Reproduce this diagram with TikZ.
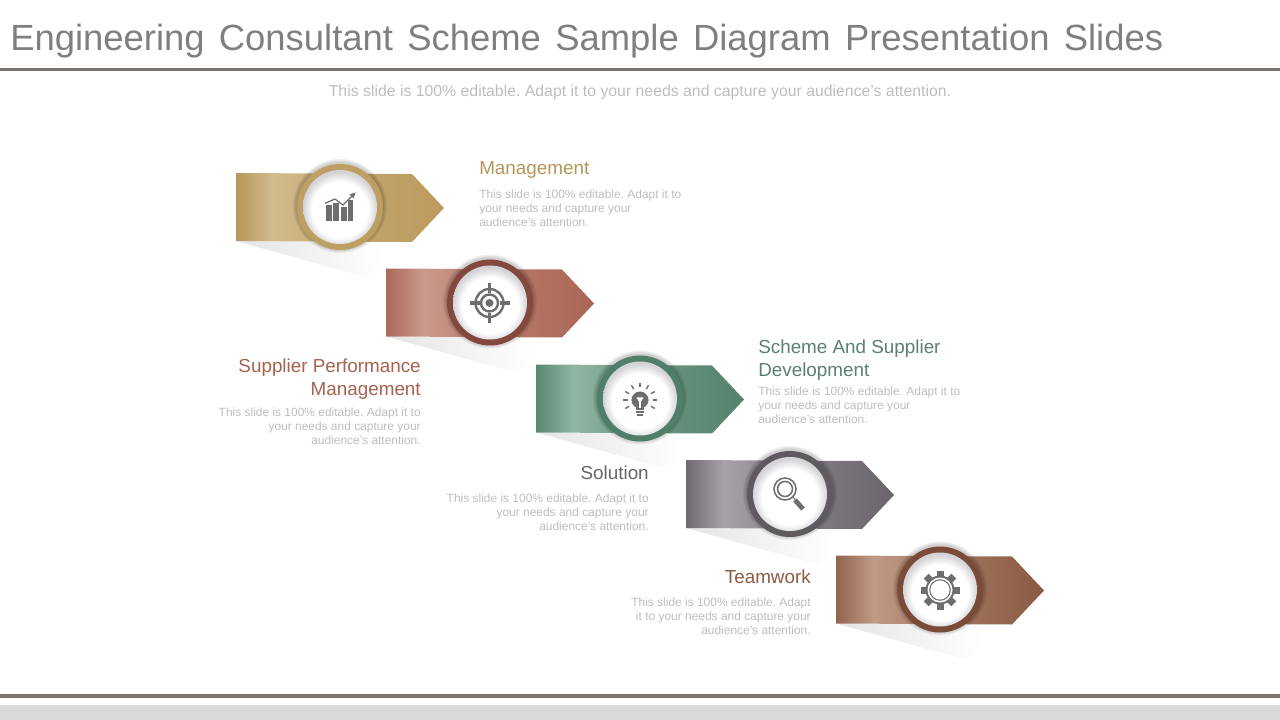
\documentclass[tikz,border=0pt]{standalone}
\usepackage{fontspec}
\setmainfont{Liberation Sans}
\usetikzlibrary{positioning,calc}
\definecolor{titlegray}{HTML}{7F7F7F}
\definecolor{rulegray}{HTML}{7A7570}
\definecolor{bandgray}{HTML}{D9D9D9}
\definecolor{bodygray}{HTML}{BDBDBD}
\definecolor{icongray}{HTML}{6E6E6E}
\definecolor{ringA}{HTML}{BE9F63}
\definecolor{ringB}{HTML}{84493E}
\definecolor{ringC}{HTML}{4F7F6B}
\definecolor{ringD}{HTML}{5F5A60}
\definecolor{ringE}{HTML}{7A4C38}
\definecolor{headA}{HTML}{B5965A}
\definecolor{headB}{HTML}{A5624F}
\definecolor{headC}{HTML}{5A8070}
\definecolor{headD}{HTML}{666666}
\definecolor{headE}{HTML}{8B5A45}
\definecolor{stopAa}{HTML}{B8985A}\definecolor{stopAb}{HTML}{D2BB8E}\definecolor{stopAc}{HTML}{C4A870}\definecolor{stopAd}{HTML}{BC9A5C}
\definecolor{stopBa}{HTML}{AC685A}\definecolor{stopBb}{HTML}{CA9A8C}\definecolor{stopBc}{HTML}{BA7C6C}\definecolor{stopBd}{HTML}{AA6654}
\definecolor{stopCa}{HTML}{588872}\definecolor{stopCb}{HTML}{90B6A4}\definecolor{stopCc}{HTML}{6C9884}\definecolor{stopCd}{HTML}{54826C}
\definecolor{stopDa}{HTML}{6E6870}\definecolor{stopDb}{HTML}{A8A2A8}\definecolor{stopDc}{HTML}{868088}\definecolor{stopDd}{HTML}{6A646C}
\definecolor{stopEa}{HTML}{92644E}\definecolor{stopEb}{HTML}{C09A86}\definecolor{stopEc}{HTML}{A67A64}\definecolor{stopEd}{HTML}{8A5A42}
\definecolor{tailgray}{HTML}{E4E4E6}
\definecolor{discgray}{HTML}{D4D4D8}
\newcommand{\bannershade}[1]{\pgfdeclarehorizontalshading{banner#1}{100bp}{color(0bp)=(stop#1a); color(25bp)=(stop#1a); color(34bp)=(stop#1b); color(50bp)=(stop#1c); color(75bp)=(stop#1d); color(100bp)=(stop#1d)}}
\bannershade{A}
\bannershade{B}
\bannershade{C}
\bannershade{D}
\bannershade{E}
\pgfdeclarehorizontalshading{tailshade}{100bp}{color(0bp)=(tailgray); color(25bp)=(tailgray); color(64bp)=(white); color(100bp)=(white)}
\pgfdeclareradialshading{discshade}{\pgfpoint{0bp}{-3bp}}{color(0bp)=(white); color(19bp)=(white); color(25bp)=(discgray); color(50bp)=(discgray)}
\tikzset{
headtext/.style={inner sep=0pt,font=\fontsize{13.4}{16.3}\selectfont},
bodytext/.style={inner sep=0pt,text=bodygray,font=\fontsize{8.5}{9.95}\selectfont},
iconline/.style={draw=icongray,line width=1.6pt}
}
\begin{document}
\frenchspacing
\begin{tikzpicture}[x=0.025cm,y=-0.025cm]
\useasboundingbox (0,0) rectangle (1280,720);
\node[anchor=west,inner sep=0pt,text=titlegray,font=\fontsize{25.9}{30}\selectfont] (title) at (10,41.5) {Engineering\hspace{3pt} Consultant\hspace{3pt} Scheme\hspace{3pt} Sample\hspace{3pt} Diagram\hspace{3pt} Presentation\hspace{3pt} Slides};
\node[inner sep=0pt,text=bodygray,font=\fontsize{11.25}{13}\selectfont] (subtitle) at (640,92.5) {This slide is 100\% editable. Adapt it to your needs and capture your audience's attention.};
\draw[rulegray,line width=2.2pt] (0,69.5) -- (1280,69.5);
\draw[rulegray,line width=2.8pt] (0,696) -- (1280,696);
\fill[bandgray] (0,705) rectangle (1280,720);
% banners, back to front
\foreach \i/\sx/\sy in {A/0/0,B/150/95.5,C/300/191.5,D/450/287,E/600/382.5}{
  \begin{scope}[shift={(\sx,\sy)}]
    \shade[shading=tailshade] (236,241) -- (365,277) -- (425,242) -- cycle;
    \shade[shading=banner\i] (236,173) -- (412,174) -- (444,208) -- (412,242) -- (236,241) -- cycle;
    \foreach \r in {44,45,46,47}
      \fill[black,opacity=0.05] (340,206) circle (\r);
    \fill[ring\i] (340,207) circle (43);
    \shade[shading=discshade] (340,207) circle (37);
  \end{scope}
}
% management icon
\begin{scope}[shift={(340,207)}]
  \foreach \x/\w/\t in {-14/6/-2,-7/6/-4,1/6/0,8/5/-7}
    \fill[icongray] (\x,13.7) rectangle ++(\w,\t-13.7);
  \draw[iconline,line width=0.9pt] (-15,-3.7) -- (-5,-8) -- (3,-2) -- (13,-12);
  \fill[icongray] (15.5,-14.5) -- (9.5,-12.5) -- (13.5,-8.5) -- cycle;
\end{scope}
% target icon
\begin{scope}[shift={(489.5,303)}]
  \draw[iconline,line width=1.7pt] (0,0) circle (14);
  \draw[iconline,line width=1.7pt] (0,0) circle (8.5);
  \fill[icongray] (0,0) circle (4);
  \draw[iconline,line width=2.4pt] (0,-20) -- (0,-10) (0,10) -- (0,20) (-20,0) -- (-10,0) (10,0) -- (20,0);
\end{scope}
% bulb icon
\begin{scope}[shift={(640,400)}]
  \fill[icongray] (0,0) circle (8.5);
  \fill[icongray] (-4,5) rectangle (4,10);
  \fill[white] (-3.5,-2.5) -- (3.5,-2.5) -- (0,3.5) -- cycle;
  \fill[white] (-0.7,2) rectangle (0.7,8);
  \draw[iconline,line width=1.3pt] (-4,12) -- (4,12);
  \draw[iconline,line width=1.3pt] (-3,15) -- (3,15);
  \foreach \a in {150,180,...,390}
    \draw[iconline,line width=1pt] (\a:12.5) -- (\a:17);
\end{scope}
% magnifier icon
\begin{scope}[shift={(785,489)}]
  \draw[iconline,line width=1.1pt] (0,0) circle (11);
  \draw[iconline,line width=1.1pt] (0,0) circle (7.5);
  \draw[iconline,line width=0.8pt] (8,8) -- (10,10.5);
  \draw[iconline,line width=3.4pt] (10,11) -- (18,20);
\end{scope}
% gear icon
\begin{scope}[shift={(940,590)}]
  \foreach \a in {0,45,...,315}
    \fill[icongray,rotate=\a] (-3.5,-19.5) rectangle (3.5,-10);
  \fill[icongray] (0,0) circle (14.5);
  \fill[white] (0,0) circle (12.5);
  \fill[icongray] (0,0) circle (10.8);
  \fill[white] (0,0) circle (9.6);
\end{scope}
% texts
\node[headtext,text=headA,anchor=north west] (management) at (479,161.5) {Management};
\node[bodytext,align=left,below=7.4pt of management.south west,anchor=north west] (managementtext) {This slide is 100\% editable. Adapt it to\\your needs and capture your\\audience's attention.};
\node[headtext,text=headB,anchor=north east,align=right] (supplier) at (421,358.5) {Supplier Performance\\Management};
\node[bodytext,align=right,below=6pt of supplier.south east,anchor=north east] (suppliertext) {This slide is 100\% editable. Adapt it to\\your needs and capture your\\audience's attention.};
\node[headtext,text=headC,anchor=north west,align=left] (scheme) at (758,339.5) {Scheme And Supplier\\Development};
\node[bodytext,align=left,below=4.6pt of scheme.south west,anchor=north west] (schemetext) {This slide is 100\% editable. Adapt it to\\your needs and capture your\\audience's attention.};
\node[headtext,text=headD,anchor=north east] (solution) at (649,465.5) {Solution};
\node[bodytext,align=right,below=9.7pt of solution.south east,anchor=north east] (solutiontext) {This slide is 100\% editable. Adapt it to\\your needs and capture your\\audience's attention.};
\node[headtext,text=headE,anchor=north east] (teamwork) at (811,569.5) {Teamwork};
\node[bodytext,align=right,below=9.7pt of teamwork.south east,anchor=north east] (teamworktext) {This slide is 100\% editable. Adapt\\it to your needs and capture your\\audience's attention.};
\end{tikzpicture}
\end{document}
